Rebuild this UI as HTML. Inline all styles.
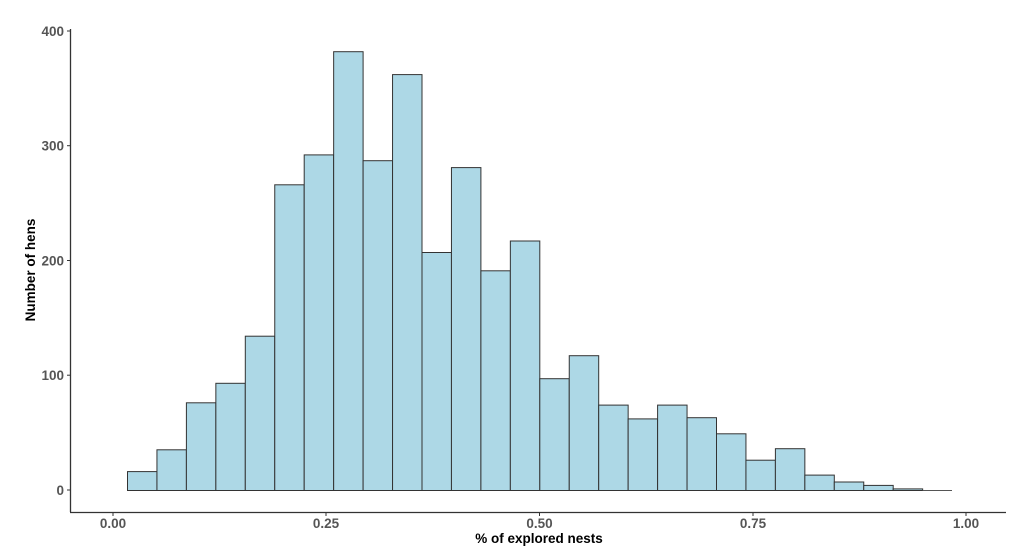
<!DOCTYPE html>
<html><head><meta charset="utf-8"><style>body{margin:0;background:#fff}svg{display:block}</style></head>
<body>
<svg width="1024" height="556" xmlns="http://www.w3.org/2000/svg" font-family="Liberation Sans, sans-serif">
<g fill="#add8e6" stroke="#333" stroke-width="1">
<rect x="127.5" y="471.6" width="29.45" height="18.9"/>
<rect x="156.95" y="449.8" width="29.45" height="40.7"/>
<rect x="186.4" y="402.8" width="29.45" height="87.7"/>
<rect x="215.85" y="383.3" width="29.45" height="107.2"/>
<rect x="245.3" y="336.2" width="29.45" height="154.3"/>
<rect x="274.75" y="184.8" width="29.45" height="305.7"/>
<rect x="304.2" y="154.9" width="29.45" height="335.6"/>
<rect x="333.65" y="51.7" width="29.45" height="438.8"/>
<rect x="363.1" y="160.7" width="29.45" height="329.8"/>
<rect x="392.55" y="74.6" width="29.45" height="415.9"/>
<rect x="422" y="252.5" width="29.45" height="238"/>
<rect x="451.45" y="167.6" width="29.45" height="322.9"/>
<rect x="480.9" y="270.8" width="29.45" height="219.7"/>
<rect x="510.35" y="241" width="29.45" height="249.5"/>
<rect x="539.8" y="378.7" width="29.45" height="111.8"/>
<rect x="569.25" y="355.7" width="29.45" height="134.8"/>
<rect x="598.7" y="405.1" width="29.45" height="85.4"/>
<rect x="628.15" y="418.9" width="29.45" height="71.6"/>
<rect x="657.6" y="405.1" width="29.45" height="85.4"/>
<rect x="687.05" y="417.7" width="29.45" height="72.8"/>
<rect x="716.5" y="433.8" width="29.45" height="56.7"/>
<rect x="745.95" y="460.2" width="29.45" height="30.3"/>
<rect x="775.4" y="448.7" width="29.45" height="41.8"/>
<rect x="804.85" y="475.1" width="29.45" height="15.4"/>
<rect x="834.3" y="482" width="29.45" height="8.5"/>
<rect x="863.75" y="485.4" width="29.45" height="5.1"/>
<rect x="893.2" y="488.9" width="29.45" height="1.6"/>
</g>
<line x1="922.65" y1="490.5" x2="952" y2="490.5" stroke="#555" stroke-width="1"/>
<line x1="70.5" y1="29" x2="70.5" y2="512" stroke="#333" stroke-width="1.3"/>
<line x1="70" y1="512.5" x2="1006" y2="512.5" stroke="#333" stroke-width="1.3"/>
<g stroke="#333" stroke-width="1">
<line x1="67" y1="31" x2="70" y2="31"/><line x1="67" y1="145.7" x2="70" y2="145.7"/><line x1="67" y1="260.5" x2="70" y2="260.5"/><line x1="67" y1="375.2" x2="70" y2="375.2"/><line x1="67" y1="490" x2="70" y2="490"/>
<line x1="113" y1="513" x2="113" y2="516"/><line x1="326" y1="513" x2="326" y2="516"/><line x1="539.5" y1="513" x2="539.5" y2="516"/><line x1="753" y1="513" x2="753" y2="516"/><line x1="966" y1="513" x2="966" y2="516"/>
</g>
<g fill="#555" font-size="13.5" font-weight="bold" text-anchor="end">
<text x="64" y="36">400</text><text x="64" y="150.5">300</text><text x="64" y="265.5">200</text><text x="64" y="380">100</text><text x="64" y="495">0</text>
</g>
<g fill="#555" font-size="13.5" font-weight="bold" text-anchor="middle">
<text x="113" y="528">0.00</text><text x="326" y="528">0.25</text><text x="539.5" y="528">0.50</text><text x="753" y="528">0.75</text><text x="966" y="528">1.00</text>
</g>
<text x="539" y="543" text-anchor="middle" font-size="13.5" font-weight="bold" fill="#000">% of explored nests</text>
<text transform="translate(35,270) rotate(-90)" text-anchor="middle" font-size="13.5" font-weight="bold" fill="#000">Number of hens</text>
</svg>
</body></html>
